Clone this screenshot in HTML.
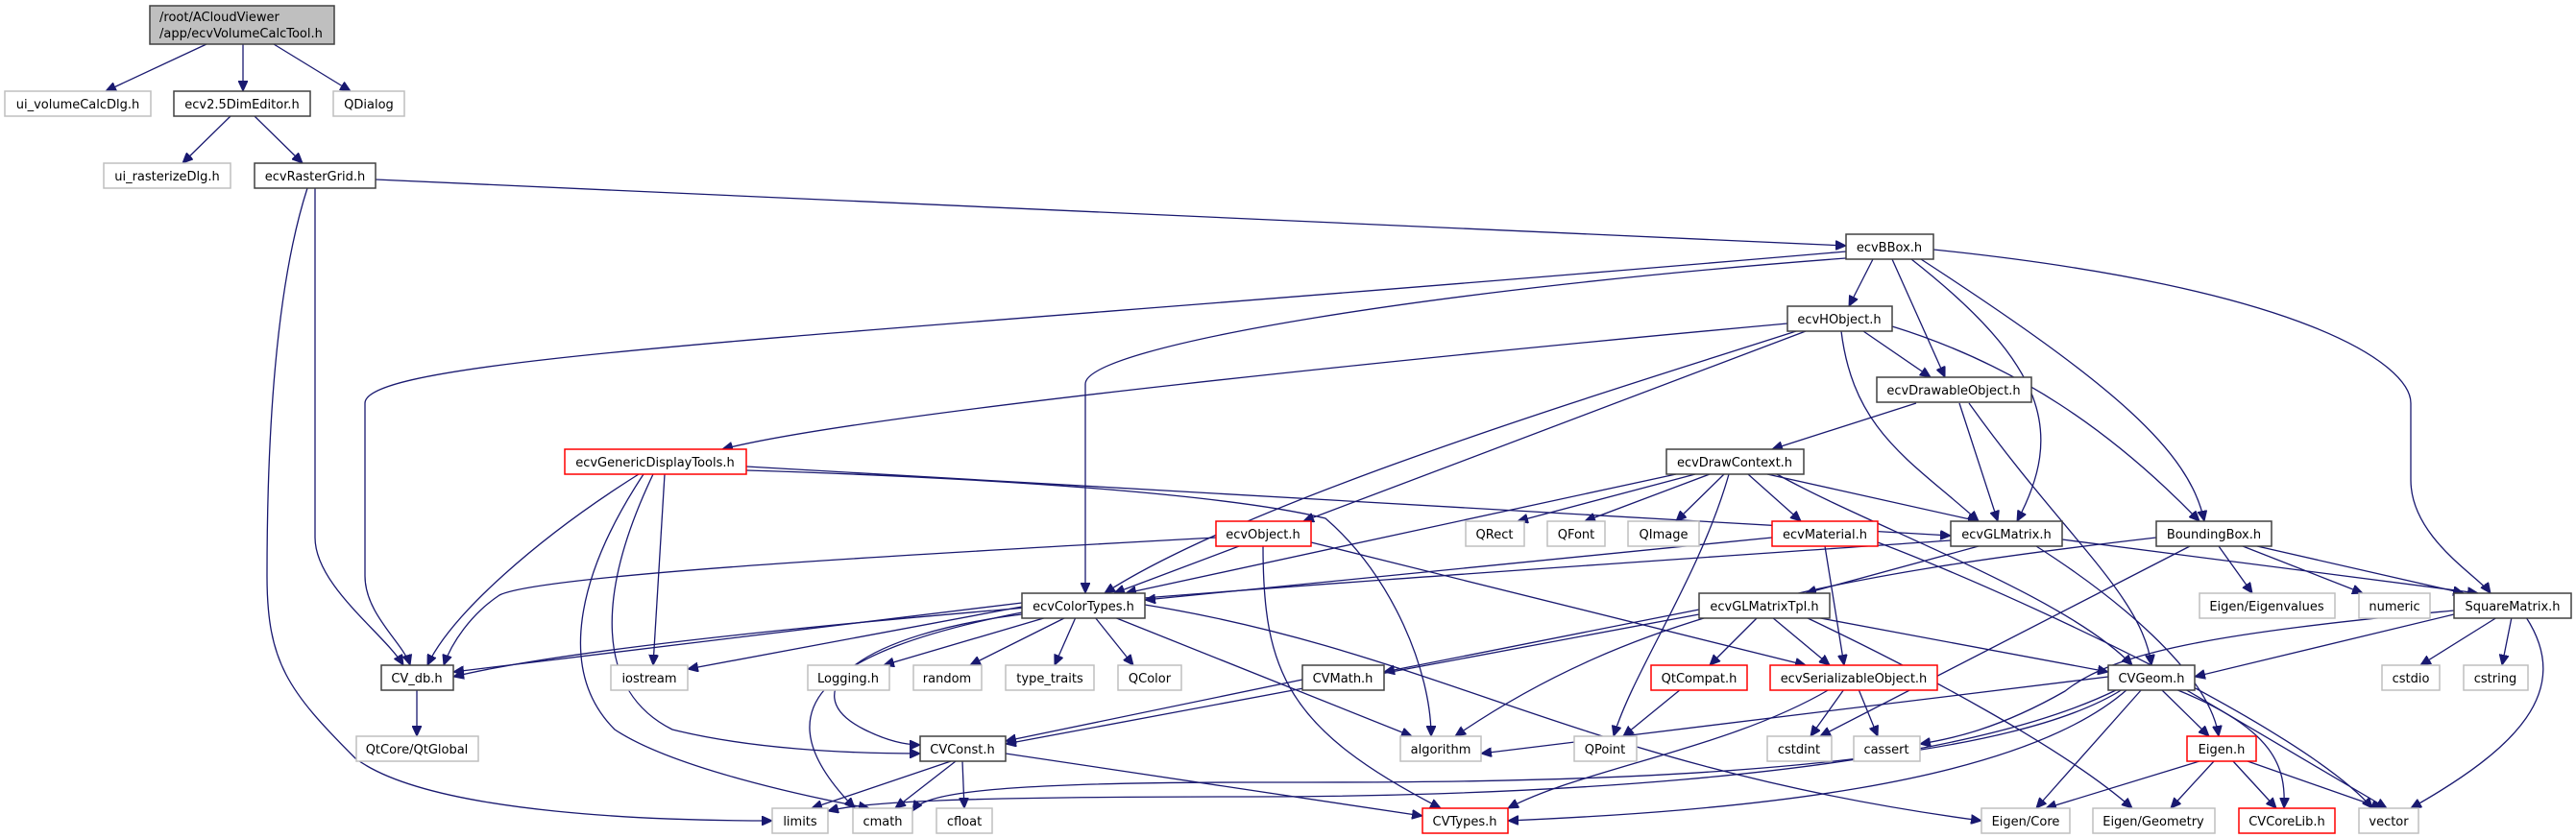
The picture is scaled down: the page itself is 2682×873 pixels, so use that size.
<!DOCTYPE html>
<html><head><meta charset="utf-8"><style>
html,body{margin:0;padding:0;background:#fff;}
svg{display:block;}
text{font-family:"DejaVu Sans","Liberation Sans",sans-serif;font-size:13px;fill:#000;}
.e{fill:none;stroke:#191970;stroke-width:1.3;marker-end:url(#a);}
.n{fill:#fff;stroke:#404040;stroke-width:1.5;}
.x{fill:#fff;stroke:#bfbfbf;stroke-width:1.5;}
.r{fill:#fff;stroke:#ff0000;stroke-width:1.5;}
</style></head><body>
<svg width="2682" height="873" viewBox="0 0 2682 873" xmlns="http://www.w3.org/2000/svg">
<defs><marker id="a" markerUnits="userSpaceOnUse" markerWidth="12" markerHeight="10" refX="11" refY="5" orient="auto"><path d="M0,0 L11,5 L0,10 z" fill="#191970" stroke="#191970"/></marker></defs>
<g>
<path class="e" d="M215,46 L110,95"/>
<path class="e" d="M253,46 L253,95"/>
<path class="e" d="M285,46 L365,95"/>
<path class="e" d="M240,121 L190,170"/>
<path class="e" d="M265,121 L315,170"/>
<path class="e" d="M391,187 L1922,256"/>
<path class="e" d="M328,196 L328,560 C328,610 400,660 420,693"/>
<path class="e" d="M320,196 C280,320 278,520 278,600 C278,690 300,720 370,790 C450,850 700,855 804,855"/>
<path class="e" d="M1922,262 C900,350 380,370 380,420 L380,600 C380,640 420,670 427,693"/>
<path class="e" d="M1935,268 C1500,300 1130,360 1130,400 L1130,618"/>
<path class="e" d="M1950,270 L1925,319"/>
<path class="e" d="M1970,270 L2025,393"/>
<path class="e" d="M1990,270 C2130,380 2150,450 2100,543"/>
<path class="e" d="M2000,270 C2200,400 2280,470 2295,543"/>
<path class="e" d="M2013,260 C2400,300 2510,380 2510,420 L2510,500 C2510,560 2580,600 2593,618"/>
<path class="e" d="M1861,337 C1500,370 900,430 752,468"/>
<path class="e" d="M1880,345 L1357,543"/>
<path class="e" d="M1870,345 C1700,400 1300,520 1150,618"/>
<path class="e" d="M1940,345 L2010,393"/>
<path class="e" d="M1917,345 C1930,450 1990,480 2060,543"/>
<path class="e" d="M1970,340 C2100,380 2200,450 2290,543"/>
<path class="e" d="M1995,420 L1845,468"/>
<path class="e" d="M2040,420 L2080,543"/>
<path class="e" d="M2050,420 C2150,560 2230,620 2240,693"/>
<path class="e" d="M1745,494 L1172,618"/>
<path class="e" d="M1765,494 L1580,543"/>
<path class="e" d="M1780,494 L1650,543"/>
<path class="e" d="M1795,494 L1745,543"/>
<path class="e" d="M1800,494 C1770,600 1700,700 1680,767"/>
<path class="e" d="M1820,494 L1875,543"/>
<path class="e" d="M1840,494 L2060,543"/>
<path class="e" d="M1850,494 C1950,550 2150,620 2220,693"/>
<path class="e" d="M777,486 L2031,558"/>
<path class="e" d="M777,490 C1100,500 1300,520 1380,540 C1450,600 1490,700 1490,767"/>
<path class="e" d="M665,494 C560,560 470,640 445,693"/>
<path class="e" d="M692,494 L680,693"/>
<path class="e" d="M670,494 C600,600 580,700 640,760 C700,800 840,830 905,842"/>
<path class="e" d="M680,494 C620,620 620,720 700,760 C780,780 880,785 958,785"/>
<path class="e" d="M1266,560 C900,580 560,600 520,620 C490,640 470,670 462,693"/>
<path class="e" d="M1290,569 L1160,618"/>
<path class="e" d="M1315,569 C1315,700 1340,760 1500,842"/>
<path class="e" d="M1365,565 L1880,693"/>
<path class="e" d="M1845,560 L1192,625"/>
<path class="e" d="M1900,569 L1920,693"/>
<path class="e" d="M1955,565 C2100,620 2400,760 2470,842"/>
<path class="e" d="M2060,569 L1880,618"/>
<path class="e" d="M2147,562 L2580,618"/>
<path class="e" d="M2120,569 C2200,620 2300,700 2310,767"/>
<path class="e" d="M2031,563 C1500,600 700,650 472,705"/>
<path class="e" d="M2245,560 C1900,600 1700,640 1515,767"/>
<path class="e" d="M2280,569 L1895,767"/>
<path class="e" d="M2310,569 L2345,618"/>
<path class="e" d="M2335,569 L2460,618"/>
<path class="e" d="M2350,569 L2565,618"/>
<path class="e" d="M1064,628 L472,700"/>
<path class="e" d="M1064,632 L716,697"/>
<path class="e" d="M1090,643 L920,693"/>
<path class="e" d="M1110,643 L1010,693"/>
<path class="e" d="M1120,643 L1098,693"/>
<path class="e" d="M1140,643 L1180,693"/>
<path class="e" d="M1160,643 L1470,767"/>
<path class="e" d="M1064,640 C900,660 820,720 900,760 C930,775 950,776 958,776"/>
<path class="e" d="M1064,638 C850,680 790,740 890,842"/>
<path class="e" d="M1192,630 C1500,680 1650,800 2063,855"/>
<path class="e" d="M1769,635 L1441,700"/>
<path class="e" d="M1769,640 L1047,775"/>
<path class="e" d="M1830,643 L1780,693"/>
<path class="e" d="M1845,643 L1905,693"/>
<path class="e" d="M1890,643 L2195,700"/>
<path class="e" d="M1880,643 C2000,700 2150,780 2220,842"/>
<path class="e" d="M1356,708 L1047,772"/>
<path class="e" d="M1750,718 L1690,767"/>
<path class="e" d="M1905,718 C1800,780 1650,800 1570,842"/>
<path class="e" d="M1920,718 L1885,767"/>
<path class="e" d="M1935,718 L1955,767"/>
<path class="e" d="M990,793 L845,842"/>
<path class="e" d="M995,793 L932,842"/>
<path class="e" d="M1002,793 L1004,842"/>
<path class="e" d="M1047,785 L1481,850"/>
<path class="e" d="M2195,705 L1542,785"/>
<path class="e" d="M2205,718 C2000,820 1500,830 1300,830 C1000,830 900,835 862,845"/>
<path class="e" d="M2210,718 C2050,820 1500,815 1300,815 C1000,815 960,830 950,845"/>
<path class="e" d="M2215,718 C2100,820 1800,845 1570,855"/>
<path class="e" d="M2230,718 L2120,842"/>
<path class="e" d="M2250,718 L2300,767"/>
<path class="e" d="M2265,718 C2370,760 2380,800 2378,842"/>
<path class="e" d="M2275,718 L2485,842"/>
<path class="e" d="M2290,793 L2130,842"/>
<path class="e" d="M2305,793 L2260,842"/>
<path class="e" d="M2325,793 L2370,842"/>
<path class="e" d="M2340,793 L2480,842"/>
<path class="e" d="M2555,640 L2285,705"/>
<path class="e" d="M2555,636 C2300,660 2200,680 2150,720 C2080,760 2030,770 1999,775"/>
<path class="e" d="M2600,643 L2520,693"/>
<path class="e" d="M2615,643 L2605,693"/>
<path class="e" d="M2630,643 C2680,720 2620,780 2510,842"/>
<path class="e" d="M434,718 L434,767"/>
</g>
<g>
<rect x="156" y="6" width="192" height="40" fill="#bfbfbf" stroke="#404040" stroke-width="1.5"/>
<text x="166" y="22">/root/ACloudViewer</text><text x="166" y="39">/app/ecvVolumeCalcTool.h</text>
</g>
<g text-anchor="middle">
<rect class="x" x="5" y="95" width="152" height="26"/><text x="81" y="113">ui_volumeCalcDlg.h</text>
<rect class="n" x="181" y="95" width="142" height="26"/><text x="252" y="113">ecv2.5DimEditor.h</text>
<rect class="x" x="347" y="95" width="74" height="26"/><text x="384" y="113">QDialog</text>
<rect class="x" x="108" y="170" width="132" height="26"/><text x="174" y="188">ui_rasterizeDlg.h</text>
<rect class="n" x="265" y="170" width="126" height="26"/><text x="328" y="188">ecvRasterGrid.h</text>
<rect class="n" x="1922" y="244" width="91" height="26"/><text x="1967" y="262">ecvBBox.h</text>
<rect class="n" x="1861" y="319" width="109" height="26"/><text x="1915" y="337">ecvHObject.h</text>
<rect class="n" x="1954" y="393" width="161" height="26"/><text x="2034" y="411">ecvDrawableObject.h</text>
<rect class="n" x="1735" y="468" width="143" height="26"/><text x="1806" y="486">ecvDrawContext.h</text>
<rect class="r" x="588" y="468" width="189" height="26"/><text x="682" y="486">ecvGenericDisplayTools.h</text>
<rect class="x" x="1526" y="543" width="61" height="26"/><text x="1556" y="561">QRect</text>
<rect class="x" x="1611" y="543" width="60" height="26"/><text x="1641" y="561">QFont</text>
<rect class="x" x="1695" y="543" width="74" height="26"/><text x="1732" y="561">QImage</text>
<rect class="r" x="1266" y="543" width="99" height="26"/><text x="1315" y="561">ecvObject.h</text>
<rect class="r" x="1845" y="543" width="110" height="26"/><text x="1900" y="561">ecvMaterial.h</text>
<rect class="n" x="2031" y="543" width="116" height="26"/><text x="2089" y="561">ecvGLMatrix.h</text>
<rect class="n" x="2245" y="543" width="120" height="26"/><text x="2305" y="561">BoundingBox.h</text>
<rect class="n" x="1064" y="618" width="128" height="26"/><text x="1128" y="636">ecvColorTypes.h</text>
<rect class="n" x="1769" y="618" width="136" height="26"/><text x="1837" y="636">ecvGLMatrixTpl.h</text>
<rect class="x" x="2290" y="618" width="141" height="26"/><text x="2360" y="636">Eigen/Eigenvalues</text>
<rect class="x" x="2456" y="618" width="74" height="26"/><text x="2493" y="636">numeric</text>
<rect class="n" x="2555" y="618" width="122" height="26"/><text x="2616" y="636">SquareMatrix.h</text>
<rect class="n" x="397" y="693" width="75" height="26"/><text x="434" y="711">CV_db.h</text>
<rect class="x" x="636" y="693" width="80" height="26"/><text x="676" y="711">iostream</text>
<rect class="x" x="841" y="693" width="85" height="26"/><text x="883" y="711">Logging.h</text>
<rect class="x" x="951" y="693" width="71" height="26"/><text x="986" y="711">random</text>
<rect class="x" x="1047" y="693" width="92" height="26"/><text x="1093" y="711">type_traits</text>
<rect class="x" x="1164" y="693" width="66" height="26"/><text x="1197" y="711">QColor</text>
<rect class="n" x="1356" y="693" width="85" height="26"/><text x="1398" y="711">CVMath.h</text>
<rect class="r" x="1719" y="693" width="100" height="26"/><text x="1769" y="711">QtCompat.h</text>
<rect class="r" x="1843" y="693" width="174" height="26"/><text x="1930" y="711">ecvSerializableObject.h</text>
<rect class="n" x="2195" y="693" width="90" height="26"/><text x="2240" y="711">CVGeom.h</text>
<rect class="x" x="2480" y="693" width="60" height="26"/><text x="2510" y="711">cstdio</text>
<rect class="x" x="2565" y="693" width="67" height="26"/><text x="2598" y="711">cstring</text>
<rect class="x" x="371" y="767" width="127" height="26"/><text x="434" y="785">QtCore/QtGlobal</text>
<rect class="n" x="958" y="767" width="89" height="26"/><text x="1002" y="785">CVConst.h</text>
<rect class="x" x="1458" y="767" width="84" height="26"/><text x="1500" y="785">algorithm</text>
<rect class="x" x="1639" y="767" width="65" height="26"/><text x="1671" y="785">QPoint</text>
<rect class="x" x="1840" y="767" width="67" height="26"/><text x="1873" y="785">cstdint</text>
<rect class="x" x="1930" y="767" width="69" height="26"/><text x="1964" y="785">cassert</text>
<rect class="r" x="2277" y="767" width="72" height="26"/><text x="2313" y="785">Eigen.h</text>
<rect class="x" x="804" y="842" width="58" height="26"/><text x="833" y="860">limits</text>
<rect class="x" x="888" y="842" width="62" height="26"/><text x="919" y="860">cmath</text>
<rect class="x" x="975" y="842" width="58" height="26"/><text x="1004" y="860">cfloat</text>
<rect class="r" x="1481" y="842" width="89" height="26"/><text x="1525" y="860">CVTypes.h</text>
<rect class="x" x="2063" y="842" width="92" height="26"/><text x="2109" y="860">Eigen/Core</text>
<rect class="x" x="2179" y="842" width="127" height="26"/><text x="2242" y="860">Eigen/Geometry</text>
<rect class="r" x="2331" y="842" width="100" height="26"/><text x="2381" y="860">CVCoreLib.h</text>
<rect class="x" x="2456" y="842" width="62" height="26"/><text x="2487" y="860">vector</text>
</g>
</svg>
</body></html>
